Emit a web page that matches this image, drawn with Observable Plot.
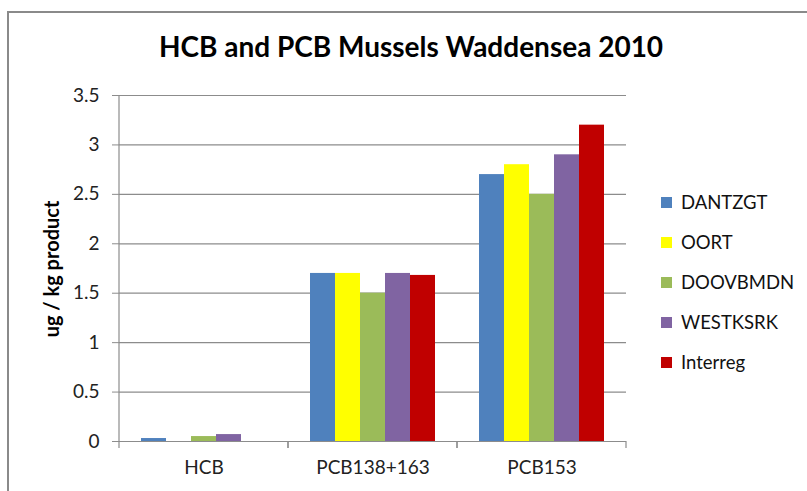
<!DOCTYPE html>
<html><head><meta charset="utf-8">
<script src="https://cdn.jsdelivr.net/npm/d3@7"></script>
<script src="https://cdn.jsdelivr.net/npm/@observablehq/plot@0.6"></script>
<style>
body{margin:0;background:#fff;}
#wrap{position:relative;width:807px;height:491px;overflow:hidden;font-family:Lato,"Open Sans",sans-serif;color:#000;}
#frame{position:absolute;left:7px;top:11px;width:900px;height:600px;border:2px solid #8a8a8a;box-sizing:border-box;}
#title{position:absolute;left:0;width:822px;top:29px;text-align:center;font-weight:bold;font-size:28px;}
#ylabel{position:absolute;left:51px;top:269px;transform:translate(-50%,-50%) rotate(-90deg);white-space:nowrap;font-weight:bold;font-size:20px;}
#chart{position:absolute;left:0;top:0;}
#legend{position:absolute;left:661px;top:0;}
.item{position:absolute;left:0;white-space:nowrap;font-size:18.5px;display:flex;align-items:center;color:#111;}
.sw{width:11px;height:11px;margin-right:9px;}
</style>
</head><body>
<div id="wrap">
  <div id="frame"></div>
  <div id="chart"></div>
  <div id="title">HCB and PCB Mussels Waddensea 2010</div>
  <div id="ylabel">ug / kg product</div>
  <div id="legend"></div>
</div>
<script>
const categories = ["HCB", "PCB138+163", "PCB153"];
const series = ["DANTZGT", "OORT", "DOOVBMDN", "WESTKSRK", "Interreg"];
const colors = ["#4F81BD", "#FFFF00", "#9BBB59", "#8064A2", "#C00000"];
const dantzgt = [0.03, 1.7, 2.7];
const oort = [0, 1.7, 2.8];
const doovbmdn = [0.05, 1.5, 2.5];
const westksrk = [0.07, 1.7, 2.9];
const interreg = [0, 1.68, 3.2];
const yTicks = [0, 0.5, 1, 1.5, 2, 2.5, 3, 3.5];

const valuesBySeries = [dantzgt, oort, doovbmdn, westksrk, interreg];
const table = series.flatMap((s, i) => categories.map((c, j) => ({category: c, series: s, value: valuesBySeries[i][j]})));

const axisColor = "#8c8c8c";
let facetCount = 0;
const axisLines = (index, scales) => {
  const g = d3.create("svg:g").attr("stroke", axisColor).attr("stroke-width", 1.2);
  const [x0, x1] = scales.x.range();
  const y0 = scales.y(0), yTop = scales.y(yTicks[yTicks.length - 1]);
  for (const xx of [x0, x1]) {
    g.append("line").attr("x1", xx).attr("x2", xx).attr("y1", y0).attr("y2", y0 + 7);
  }
  if (facetCount++ === 0) {
    g.append("line").attr("x1", x0).attr("x2", x0).attr("y1", yTop).attr("y2", y0);
  }
  return g.node();
};

const chart = Plot.plot({
  width: 807, height: 491,
  marginTop: 95, marginBottom: 50, marginLeft: 119, marginRight: 181,
  style: {fontFamily: "Lato, 'Open Sans', sans-serif", fontSize: "19px", color: "#000", background: "transparent", overflow: "visible"},
  fx: {domain: categories, padding: 0, label: null},
  x: {domain: series, paddingInner: 0, paddingOuter: 0.77, axis: null},
  y: {domain: [0, 3.5], label: null},
  color: {domain: series, range: colors},
  marks: [
    Plot.gridY(yTicks, {stroke: axisColor, strokeOpacity: 1, strokeWidth: 1.2}),
    Plot.axisY(yTicks, {tickSize: 7, tickPadding: 13, stroke: axisColor, strokeOpacity: 1, tickFormat: d => String(d), label: null, fill: "#222", fontSize: 19}),
    Plot.axisFx({anchor: "bottom", tickSize: 0, tickPadding: 19, label: null, fill: "#222", fontSize: 19}),
    Plot.barY(table, {fx: "category", x: "series", y: "value", fill: "series"}),
    axisLines
  ]
});
document.getElementById("chart").appendChild(chart);

const legend = document.getElementById("legend");
series.forEach((s, i) => {
  const item = document.createElement("div");
  item.className = "item";
  item.style.top = (191 + i * 40) + "px";
  const sw = document.createElement("span");
  sw.className = "sw";
  sw.style.background = colors[i];
  item.appendChild(sw);
  item.appendChild(document.createTextNode(s));
  legend.appendChild(item);
});
</script>
</body></html>
